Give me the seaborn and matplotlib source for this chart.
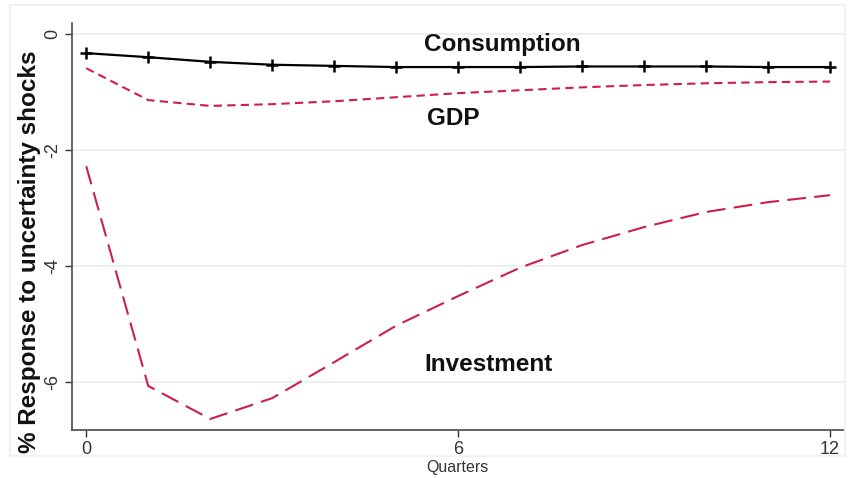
import matplotlib
matplotlib.use("Agg")
import matplotlib.pyplot as plt
import seaborn as sns
import pandas as pd
from matplotlib.patches import Rectangle

quarters = list(range(13))
consumption = [-0.33, -0.40, -0.48, -0.53, -0.55, -0.57, -0.57, -0.57, -0.56, -0.56, -0.56, -0.57, -0.57]
gdp = [-0.59, -1.14, -1.24, -1.21, -1.16, -1.09, -1.02, -0.97, -0.92, -0.88, -0.85, -0.83, -0.82]
investment = [-2.28, -6.07, -6.64, -6.28, -5.66, -5.03, -4.52, -4.03, -3.64, -3.33, -3.07, -2.90, -2.78]
y_ticks = [0, -2, -4, -6]
x_ticks = [0, 6, 12]

sns.set_theme(style="white")
plt.rcParams['font.family'] = ['Liberation Sans', 'DejaVu Sans']

fig = plt.figure(figsize=(8.52, 4.78), dpi=100)
fig.patches.append(Rectangle((0.012, 0.045), 0.98, 0.945, transform=fig.transFigure,
                             fill=False, edgecolor="#eef2f4", lw=1.5, zorder=-5))
ax = fig.add_axes([0.0845, 0.1004, 0.905, 0.8515])

red = "#cc1f4a"
df = pd.DataFrame({"q": quarters, "c": consumption, "g": gdp, "i": investment})
for v in y_ticks:
    ax.axhline(v, color="#e6eff2", lw=1.3, zorder=0)
sns.lineplot(data=df, x="q", y="c", ax=ax, color="black", lw=1.6, marker="+",
             markersize=9, markeredgewidth=1.8, markeredgecolor="black")
sns.lineplot(data=df, x="q", y="g", ax=ax, color=red, lw=1.5,
             linestyle=(0, (4, 2.5)))
sns.lineplot(data=df, x="q", y="i", ax=ax, color=red, lw=1.5,
             linestyle=(0, (9, 4)))

ax.set_xlim(-0.23, 12.21)
ax.set_ylim(-6.83, 0.19)
ax.set_xticks(x_ticks)
ax.set_yticks(y_ticks)
ax.set_yticklabels([str(v) for v in y_ticks], rotation=90, va="center")
ax.tick_params(axis="both", direction="out", length=5, width=1, color="#333333",
               labelsize=13, labelcolor="#333333", left=True, bottom=True, pad=3)
for s in ["top", "right"]:
    ax.spines[s].set_visible(False)
for s in ["left", "bottom"]:
    ax.spines[s].set_color("#555555")
    ax.spines[s].set_linewidth(1.3)

ax.set_xlabel("Quarters", fontsize=11.5, color="#333333", labelpad=1)
ax.set_ylabel("% Response to uncertainty shocks", fontsize=17.5, fontweight="bold",
              color="#111111")
ax.yaxis.set_label_coords(-0.040, 0.437)

ax.text(5.45, -0.18, "Consumption", fontsize=17.5, fontweight="bold", ha="left", va="center", color="#111111")
ax.text(5.5, -1.45, "GDP", fontsize=17.5, fontweight="bold", ha="left", va="center", color="#111111")
ax.text(5.45, -5.7, "Investment", fontsize=17.5, fontweight="bold", ha="left", va="center", color="#111111")

fig.savefig("out.png", dpi=100)
